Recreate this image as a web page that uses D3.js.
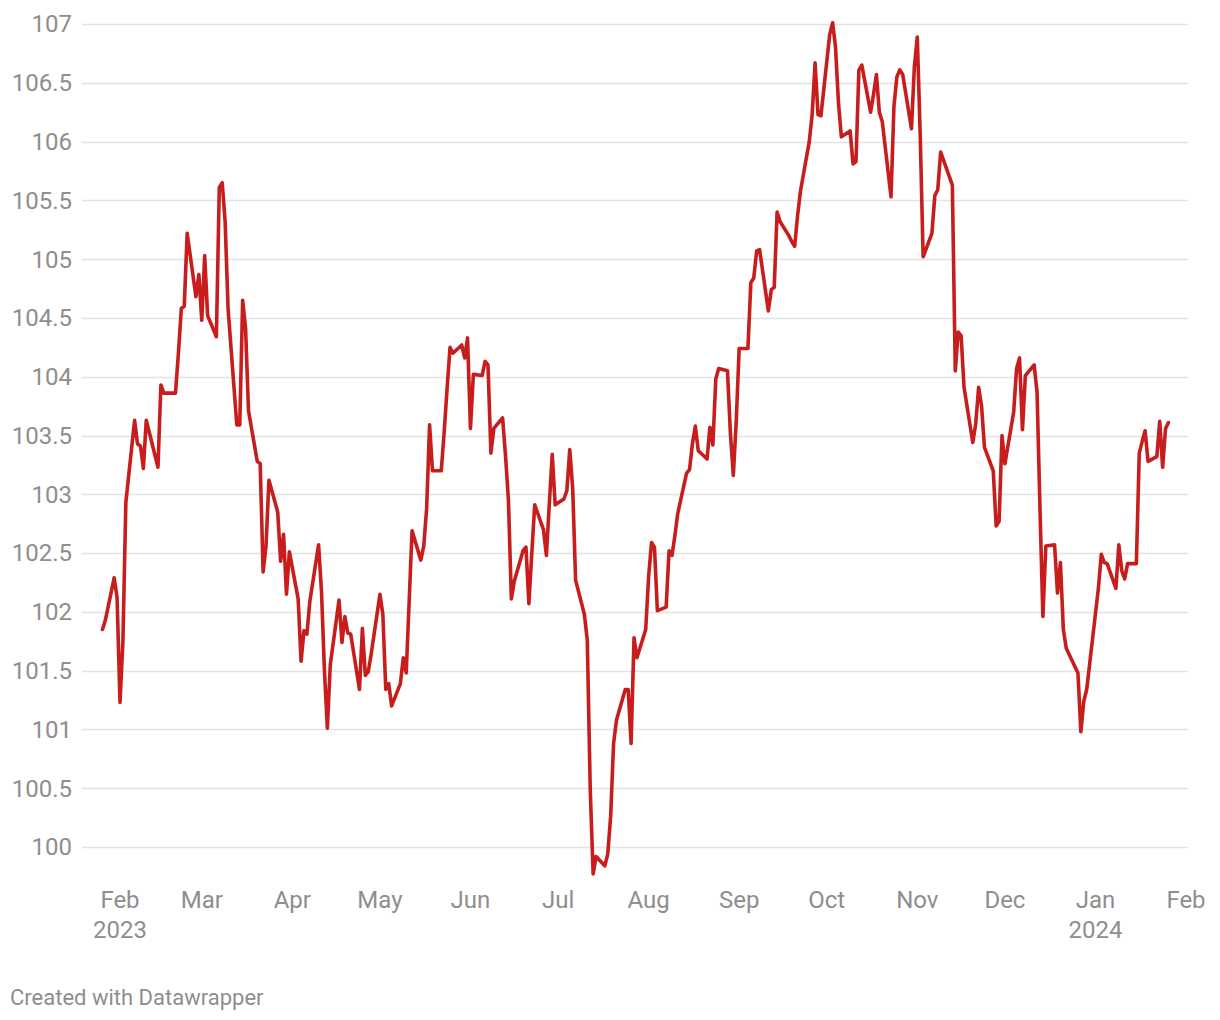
<!DOCTYPE html>
<html>
<head>
<meta charset="utf-8">
<script src="https://cdn.jsdelivr.net/npm/d3@7"></script>
<style>
  html, body { margin: 0; padding: 0; background: #ffffff; }
  svg { display: block; font-family: Roboto, "Noto Sans", sans-serif; }
</style>
</head>
<body>
<svg id="chart" width="1220" height="1020"></svg>
<script>
// ---- DATA ----
const dates = [
  "2023-01-26","2023-01-27","2023-01-30","2023-01-31","2023-02-01","2023-02-02","2023-02-03",
  "2023-02-06","2023-02-07","2023-02-08","2023-02-09","2023-02-10",
  "2023-02-13","2023-02-14","2023-02-15","2023-02-16","2023-02-17",
  "2023-02-20","2023-02-21","2023-02-22","2023-02-23","2023-02-24",
  "2023-02-27","2023-02-28","2023-03-01","2023-03-02","2023-03-03",
  "2023-03-06","2023-03-07","2023-03-08","2023-03-09","2023-03-10",
  "2023-03-13","2023-03-14","2023-03-15","2023-03-16","2023-03-17",
  "2023-03-20","2023-03-21","2023-03-22","2023-03-23","2023-03-24",
  "2023-03-27","2023-03-28","2023-03-29","2023-03-30","2023-03-31",
  "2023-04-03","2023-04-04","2023-04-05","2023-04-06","2023-04-07",
  "2023-04-10","2023-04-11","2023-04-12","2023-04-13","2023-04-14",
  "2023-04-17","2023-04-18","2023-04-19","2023-04-20","2023-04-21",
  "2023-04-24","2023-04-25","2023-04-26","2023-04-27","2023-04-28",
  "2023-05-01","2023-05-02","2023-05-03","2023-05-04","2023-05-05",
  "2023-05-08","2023-05-09","2023-05-10","2023-05-11","2023-05-12",
  "2023-05-15","2023-05-16","2023-05-17","2023-05-18","2023-05-19",
  "2023-05-22","2023-05-23","2023-05-24","2023-05-25","2023-05-26",
  "2023-05-29","2023-05-30","2023-05-31","2023-06-01","2023-06-02",
  "2023-06-05","2023-06-06","2023-06-07","2023-06-08","2023-06-09",
  "2023-06-12","2023-06-13","2023-06-14","2023-06-15","2023-06-16",
  "2023-06-19","2023-06-20","2023-06-21","2023-06-22","2023-06-23",
  "2023-06-26","2023-06-27","2023-06-28","2023-06-29","2023-06-30",
  "2023-07-03","2023-07-04","2023-07-05","2023-07-06","2023-07-07",
  "2023-07-10","2023-07-11","2023-07-12","2023-07-13","2023-07-14",
  "2023-07-17","2023-07-18","2023-07-19","2023-07-20","2023-07-21",
  "2023-07-24","2023-07-25","2023-07-26","2023-07-27","2023-07-28",
  "2023-07-31","2023-08-01","2023-08-02","2023-08-03","2023-08-04",
  "2023-08-07","2023-08-08","2023-08-09","2023-08-10","2023-08-11",
  "2023-08-14","2023-08-15","2023-08-16","2023-08-17","2023-08-18",
  "2023-08-21","2023-08-22","2023-08-23","2023-08-24","2023-08-25",
  "2023-08-28","2023-08-29","2023-08-30","2023-08-31","2023-09-01",
  "2023-09-04","2023-09-05","2023-09-06","2023-09-07","2023-09-08",
  "2023-09-11","2023-09-12","2023-09-13","2023-09-14","2023-09-15",
  "2023-09-18","2023-09-19","2023-09-20","2023-09-21","2023-09-22",
  "2023-09-25","2023-09-26","2023-09-27","2023-09-28","2023-09-29",
  "2023-10-02","2023-10-03","2023-10-04","2023-10-05","2023-10-06",
  "2023-10-09","2023-10-10","2023-10-11","2023-10-12","2023-10-13",
  "2023-10-16","2023-10-17","2023-10-18","2023-10-19","2023-10-20",
  "2023-10-23","2023-10-24","2023-10-25","2023-10-26","2023-10-27",
  "2023-10-30","2023-10-31","2023-11-01","2023-11-02","2023-11-03",
  "2023-11-06","2023-11-07","2023-11-08","2023-11-09","2023-11-10",
  "2023-11-13","2023-11-14","2023-11-15","2023-11-16","2023-11-17",
  "2023-11-20","2023-11-21","2023-11-22","2023-11-23","2023-11-24",
  "2023-11-27","2023-11-28","2023-11-29","2023-11-30","2023-12-01",
  "2023-12-04","2023-12-05","2023-12-06","2023-12-07","2023-12-08",
  "2023-12-11","2023-12-12","2023-12-13","2023-12-14","2023-12-15",
  "2023-12-18","2023-12-19","2023-12-20","2023-12-21","2023-12-22",
  "2023-12-26","2023-12-27","2023-12-28","2023-12-29",
  "2024-01-02","2024-01-03","2024-01-04","2024-01-05",
  "2024-01-08","2024-01-09","2024-01-10","2024-01-11","2024-01-12",
  "2024-01-15","2024-01-16","2024-01-17","2024-01-18","2024-01-19",
  "2024-01-22","2024-01-23","2024-01-24","2024-01-25","2024-01-26"
];
const values = [
  101.85,101.93,102.29,102.12,101.23,101.75,102.93,
  103.63,103.43,103.41,103.22,103.63,
  103.33,103.23,103.93,103.86,103.86,
  103.86,104.20,104.58,104.60,105.22,
  104.68,104.87,104.48,105.03,104.52,
  104.34,105.61,105.65,105.32,104.58,
  103.59,103.59,104.65,104.41,103.71,
  103.28,103.26,102.34,102.56,103.12,
  102.85,102.43,102.66,102.15,102.51,
  102.11,101.58,101.84,101.81,102.09,
  102.57,102.17,101.50,101.01,101.55,
  102.10,101.74,101.96,101.82,101.81,
  101.34,101.86,101.46,101.49,101.64,
  102.15,101.98,101.34,101.39,101.20,
  101.39,101.61,101.48,102.08,102.69,
  102.44,102.56,102.88,103.59,103.20,
  103.20,103.53,103.90,104.25,104.20,
  104.27,104.16,104.33,103.56,104.02,
  104.01,104.13,104.10,103.35,103.56,
  103.65,103.33,102.95,102.11,102.26,
  102.52,102.55,102.07,102.50,102.91,
  102.70,102.48,102.92,103.34,102.91,
  102.96,103.03,103.38,103.05,102.27,
  101.98,101.76,100.50,99.77,99.92,
  99.84,99.94,100.26,100.88,101.08,
  101.34,101.34,100.88,101.78,101.61,
  101.85,102.30,102.59,102.55,102.01,
  102.04,102.52,102.48,102.65,102.84,
  103.18,103.21,103.43,103.58,103.37,
  103.30,103.57,103.42,103.98,104.07,
  104.05,103.52,103.16,103.62,104.24,
  104.24,104.80,104.84,105.07,105.08,
  104.56,104.74,104.76,105.40,105.32,
  105.20,105.15,105.11,105.37,105.58,
  106.00,106.23,106.67,106.23,106.22,
  106.91,107.01,106.80,106.33,106.04,
  106.09,105.81,105.83,106.61,106.65,
  106.25,106.40,106.57,106.25,106.17,
  105.53,106.30,106.55,106.61,106.57,
  106.11,106.64,106.89,106.05,105.02,
  105.22,105.54,105.59,105.91,105.84,
  105.63,104.05,104.38,104.35,103.91,
  103.44,103.60,103.91,103.75,103.40,
  103.20,102.73,102.77,103.50,103.26,
  103.70,104.07,104.16,103.55,104.01,
  104.10,103.87,102.88,101.96,102.56,
  102.57,102.16,102.42,101.85,101.69,
  101.48,100.98,101.24,101.34,
  102.20,102.49,102.42,102.41,
  102.20,102.57,102.35,102.28,102.41,
  102.41,103.35,103.45,103.54,103.28,
  103.32,103.62,103.23,103.56,103.61
];
const yTicks = [100, 100.5, 101, 101.5, 102, 102.5, 103, 103.5, 104, 104.5, 105, 105.5, 106, 106.5, 107];
const monthTicks = ["2023-02-01","2023-03-01","2023-04-01","2023-05-01","2023-06-01","2023-07-01",
  "2023-08-01","2023-09-01","2023-10-01","2023-11-01","2023-12-01","2024-01-01","2024-02-01"];
const monthLabels = ["Feb","Mar","Apr","May","Jun","Jul","Aug","Sep","Oct","Nov","Dec","Jan","Feb"];
const yearLabels = {"2023-02-01": "2023", "2024-01-01": "2024"};
const footerText = "Created with Datawrapper";

// ---- DRAW ----
const parse = d3.utcParse("%Y-%m-%d");
const series = dates.map((d, i) => ({ date: parse(d), value: values[i] }));

const svg = d3.select("#chart");
const x = d3.scaleUtc()
  .domain([parse("2023-02-01"), parse("2024-02-01")])
  .range([120, 1186]);
const y = d3.scaleLinear().domain([100, 107]).range([847, 24]);

const gridLeft = 82, gridRight = 1188;
const fmt = v => d3.format("~f")(+v.toFixed(1));
const labelColor = "#8e8e8e";

// gridlines
svg.append("g").selectAll("line").data(yTicks).join("line")
  .attr("x1", gridLeft).attr("x2", gridRight)
  .attr("y1", d => Math.round(y(d)) + 0.5).attr("y2", d => Math.round(y(d)) + 0.5)
  .attr("stroke", "#e2e2e2").attr("stroke-width", 1.6);

// y labels
svg.append("g").selectAll("text").data(yTicks).join("text")
  .attr("x", 72).attr("y", d => y(d))
  .attr("dy", "0.35em")
  .attr("text-anchor", "end")
  .attr("fill", labelColor)
  .style("font-size", "24px")
  .text(d => fmt(d));

// x labels
const xg = svg.append("g");
xg.selectAll("text.m").data(monthTicks).join("text")
  .attr("class", "m")
  .attr("x", d => x(parse(d))).attr("y", 900)
  .attr("dy", "0.35em")
  .attr("text-anchor", "middle")
  .attr("fill", labelColor)
  .style("font-size", "24px")
  .text((d, i) => monthLabels[i]);
xg.selectAll("text.yr").data(monthTicks.filter(d => yearLabels[d])).join("text")
  .attr("class", "yr")
  .attr("x", d => x(parse(d))).attr("y", 930)
  .attr("dy", "0.35em")
  .attr("text-anchor", "middle")
  .attr("fill", labelColor)
  .style("font-size", "24px")
  .text(d => yearLabels[d]);

// line
const line = d3.line().x(d => x(d.date)).y(d => y(d.value));
svg.append("path").datum(series)
  .attr("d", line)
  .attr("fill", "none")
  .attr("stroke", "#c71e1d")
  .attr("stroke-width", 3.6)
  .attr("stroke-linejoin", "round")
  .attr("stroke-linecap", "round");

// footer
svg.append("text")
  .attr("x", 10).attr("y", 997).attr("dy", "0.35em")
  .attr("fill", labelColor)
  .style("font-size", "22px")
  .text(footerText);
</script>
</body>
</html>
